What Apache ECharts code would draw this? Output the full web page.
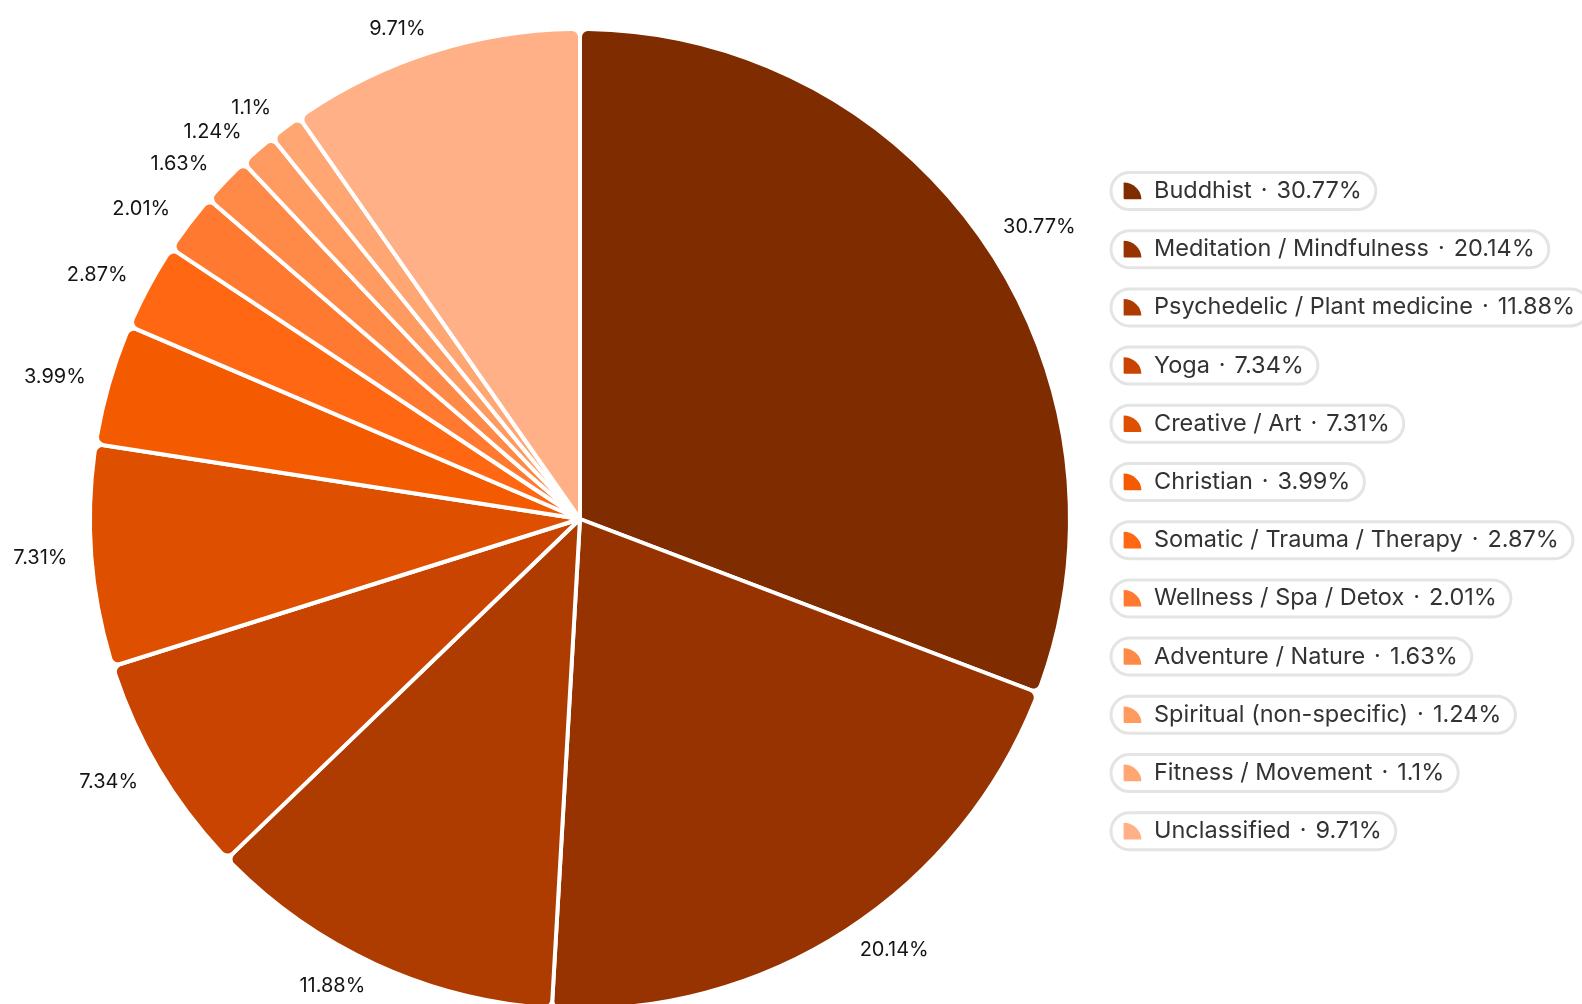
<!DOCTYPE html>
<html>
<head>
<meta charset="utf-8">
<title>Retreat categories</title>
<script src="https://cdn.jsdelivr.net/npm/echarts@6/dist/echarts.min.js"></script>
<style>
  html, body { margin: 0; padding: 0; background: #ffffff; }
  #chart { width: 1582px; height: 1004px; }
</style>
</head>
<body>
<div id="chart"></div>
<script>
// Retreat categories and their share of all listings (percent)
const categories = [
  'Buddhist',
  'Meditation / Mindfulness',
  'Psychedelic / Plant medicine',
  'Yoga',
  'Creative / Art',
  'Christian',
  'Somatic / Trauma / Therapy',
  'Wellness / Spa / Detox',
  'Adventure / Nature',
  'Spiritual (non-specific)',
  'Fitness / Movement',
  'Unclassified'
];
const shares = [30.77, 20.14, 11.88, 7.34, 7.31, 3.99, 2.87, 2.01, 1.63, 1.24, 1.1, 9.71];
const palette = [
  '#7e2c00', '#963300', '#ae3b00', '#c84400', '#de4f00', '#f45a00',
  '#ff6712', '#ff7a30', '#ff8a48', '#ff9a60', '#ffa673', '#ffb086'
];

const FONT = 'Inter, "Noto Sans", sans-serif';

// Quarter-disc glyph used as the legend marker, one per colour
function quarterIcon(color) {
  const svg = '<svg xmlns="http://www.w3.org/2000/svg" width="38" height="36" viewBox="0 0 19 18">' +
    '<path d="M0.6 0.6 A18 17 0 0 1 18.4 17.2 L1.8 17.2 Q0.6 17.2 0.6 16 Z" fill="' + color + '"/></svg>';
  return 'data:image/svg+xml;charset=utf-8,' + encodeURIComponent(svg);
}

const legendText = { fontFamily: FONT, fontSize: 23.5, color: '#333333', lineHeight: 25 };
const legendRich = {
  n: Object.assign({ padding: [0, 0, 0, 12] }, legendText),
  d: Object.assign({ padding: [0, 9, 0, 9] }, legendText),
  v: Object.assign({}, legendText)
};
categories.forEach(function (c, i) {
  legendRich['ic' + i] = {
    width: 19, height: 18,
    backgroundColor: { image: quarterIcon(palette[i]) }
  };
});

const chart = echarts.init(document.getElementById('chart'), null, { renderer: 'canvas' });

// Anchor each value label a little beyond the rim on the slice's mid-angle,
// text vertically centred on the anchor and running away from the pie
function placeLabel(p) {
  const layout = chart.getModel().getSeriesByIndex(0).getData().getItemLayout(p.dataIndex);
  const mid = (layout.startAngle + layout.endAngle) / 2;
  const dx = Math.cos(mid), dy = Math.sin(mid);
  const reach = layout.r + 24;
  return {
    x: layout.cx + dx * reach,
    y: layout.cy + dy * reach,
    align: dx >= 0 ? 'left' : 'right',
    verticalAlign: 'middle'
  };
}

chart.setOption({
  backgroundColor: '#ffffff',
  animation: false,
  color: palette,
  legend: {
    orient: 'vertical',
    left: 1100,
    top: 166,
    itemGap: 18.2,
    itemWidth: 0,
    itemHeight: 0,
    selectedMode: false,
    data: categories,
    formatter: function (name) {
      const i = categories.indexOf(name);
      return '{ic' + i + '|}{n|' + name + '}{d|·}{v|' + shares[i] + '%}';
    },
    textStyle: {
      fontFamily: FONT,
      fontSize: 23.5,
      color: '#333333',
      borderColor: '#e4e4e4',
      borderWidth: 1.5,
      borderRadius: 20,
      padding: [6, 14, 6, 12],
      backgroundColor: 'transparent',
      rich: legendRich
    }
  },
  series: [{
    type: 'pie',
    center: [580, 519],
    radius: 490,
    startAngle: 90,
    clockwise: true,
    avoidLabelOverlap: false,
    itemStyle: {
      borderColor: '#ffffff',
      borderWidth: 4,
      borderRadius: 8
    },
    label: {
      show: true,
      position: 'outside',
      fontFamily: FONT,
      fontSize: 20,
      color: '#141414',
      formatter: function (p) { return p.value + '%'; }
    },
    labelLine: { show: false },
    labelLayout: placeLabel,
    emphasis: { disabled: true },
    data: categories.map(function (c, i) {
      return { name: c, value: shares[i] };
    })
  }]
});
</script>
</body>
</html>
